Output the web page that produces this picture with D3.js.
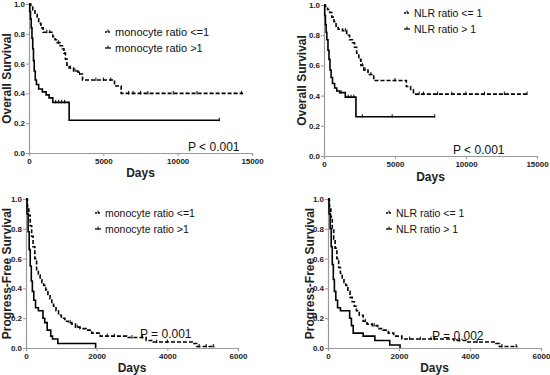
<!DOCTYPE html>
<html>
<head>
<meta charset="utf-8">
<script src="https://cdn.jsdelivr.net/npm/d3@7"></script>
<style>
  body { margin: 0; background: #fff; }
  svg { font-family: "Liberation Sans", Arial, sans-serif; }
  .tick text { font-weight: bold; font-size: 8px; fill: #222; }
  .axis-title { font-weight: bold; fill: #222; }
</style>
</head>
<body>
<div id="chart"></div>
<script>
// Overall survival, monocyte ratio
var osMonoLowT = [0,120,250,400,550,650,800,950,1600,1750,1900,2100,2250,2350,2450,2550,2700,3000,3300,3600,5750,6200,14400];
var osMonoLowS = [1,0.98,0.96,0.93,0.90,0.87,0.84,0.81,0.78,0.76,0.74,0.72,0.70,0.67,0.63,0.59,0.57,0.55,0.53,0.49,0.45,0.40,0.40];
var osMonoLowC = [1200,1400,2000,2800,3100,3400,4500,5000,5500,6700,7000,7500,8000,9700,11300,14300];
var osMonoHighT = [0,50,100,150,200,250,300,350,420,500,650,900,1150,1350,1600,2700,12800];
var osMonoHighS = [1,0.95,0.90,0.84,0.77,0.70,0.62,0.55,0.49,0.46,0.43,0.41,0.39,0.37,0.34,0.22,0.22];
var osMonoHighC = [1800,2000,2200,2400,12800];

// Overall survival, NLR ratio
var osNlrLowT = [0,100,250,400,550,700,850,1000,1300,1600,1800,2000,2150,2300,2450,2600,2800,3100,3500,5800,6100,6300,14400];
var osNlrLowS = [1,0.99,0.97,0.95,0.92,0.89,0.86,0.84,0.83,0.80,0.77,0.75,0.72,0.68,0.64,0.60,0.57,0.54,0.50,0.46,0.44,0.41,0.41];
var osNlrLowC = [1500,2700,2900,3300,5000,6700,7000,8000,9000,10000,11300,12700,14300];
var osNlrHighT = [0,50,100,150,200,280,350,420,500,600,750,900,1100,1500,2250,7800];
var osNlrHighS = [1,0.93,0.87,0.82,0.77,0.70,0.64,0.57,0.52,0.48,0.45,0.43,0.42,0.39,0.26,0.26];
var osNlrHighC = [1200,1700,1900,2100,2700,4800,7800];

// Progression-free survival, monocyte ratio
var pfsMonoLowT = [0,40,80,120,160,200,250,300,350,400,450,500,560,620,680,730,780,850,920,1000,1100,1200,1300,1400,1530,1700,1860,2100,2850,3400,3600,4750,4830,5350];
var pfsMonoLowS = [1,0.95,0.89,0.82,0.75,0.68,0.60,0.52,0.49,0.46,0.44,0.42,0.39,0.36,0.33,0.30,0.28,0.25,0.22,0.20,0.18,0.17,0.16,0.14,0.13,0.12,0.10,0.08,0.07,0.05,0.04,0.03,0.01,0.01];
var pfsMonoLowC = [1250,1450,2300,2500,3000,3300,3700,4000,4900,5100,5300];
var pfsMonoHighT = [0,30,60,90,120,150,180,220,270,350,480,530,600,700,750,900,1970];
var pfsMonoHighS = [1,0.90,0.78,0.66,0.55,0.45,0.38,0.32,0.27,0.25,0.20,0.17,0.12,0.08,0.06,0.03,0];
var pfsMonoHighC = [];

// Progression-free survival, NLR ratio
var pfsNlrLowT = [0,40,80,120,160,200,250,300,350,400,450,500,560,620,680,740,800,880,990,1100,1250,1400,1550,1700,1850,2080,3550,3900,4730,4830,5340];
var pfsNlrLowS = [1,0.95,0.88,0.80,0.73,0.67,0.60,0.54,0.50,0.47,0.44,0.42,0.38,0.34,0.31,0.28,0.25,0.22,0.18,0.16,0.15,0.13,0.12,0.10,0.08,0.06,0.05,0.04,0.03,0.01,0.01];
var pfsNlrLowC = [1050,1300,2300,2600,2900,3000,3700,4200,4900,5300];
var pfsNlrHighT = [0,30,60,90,120,150,180,220,270,350,610,660,710,990,1320,1740,2030];
var pfsNlrHighS = [1,0.90,0.80,0.68,0.56,0.46,0.38,0.32,0.27,0.25,0.20,0.15,0.10,0.08,0.05,0.02,0];
var pfsNlrHighC = [];

var yTicks = [0, 0.2, 0.4, 0.6, 0.8, 1.0];
var osTicks = [0, 5000, 10000, 15000];
var pfsTicks = [0, 2000, 4000, 6000];

var panels = [
    {x0: 29, x1: 252, y0: 153, y1: 4, xMax: 15000, xTicks: osTicks, yTitle: 'Overall Survival', yTitleX: 7,
     daysY: 177, legX: 105, legY: 32, legSize: 11, pText: 'P < 0.001', pX: 188, pY: 151,
     labels: ['monocyte ratio <=1', 'monocyte ratio >1'],
     low: [osMonoLowT, osMonoLowS, osMonoLowC], high: [osMonoHighT, osMonoHighS, osMonoHighC]},
    {x0: 324, x1: 537, y0: 156, y1: 5, xMax: 15000, xTicks: osTicks, yTitle: 'Overall Survival', yTitleX: 302,
     daysY: 181, legX: 404, legY: 13, legSize: 10.5, pText: 'P < 0.001', pX: 453, pY: 154,
     labels: ['NLR ratio <= 1', 'NLR ratio > 1'],
     low: [osNlrLowT, osNlrLowS, osNlrLowC], high: [osNlrHighT, osNlrHighS, osNlrHighC]},
    {x0: 26, x1: 238, y0: 348, y1: 199, xMax: 6000, xTicks: pfsTicks, yTitle: 'Progress-Free Survival', yTitleX: 7,
     daysY: 372, legX: 95, legY: 213, legSize: 10.5, pText: 'P = 0.001', pX: 140, pY: 338,
     labels: ['monocyte ratio <=1', 'monocyte ratio >1'],
     low: [pfsMonoLowT, pfsMonoLowS, pfsMonoLowC], high: [pfsMonoHighT, pfsMonoHighS, pfsMonoHighC]},
    {x0: 328, x1: 541, y0: 348, y1: 199, xMax: 6000, xTicks: pfsTicks, yTitle: 'Progress-Free Survival', yTitleX: 310,
     daysY: 372, legX: 386, legY: 213, legSize: 10.5, pText: 'P = 0.002', pX: 432, pY: 340,
     labels: ['NLR ratio <= 1', 'NLR ratio > 1'],
     low: [pfsNlrLowT, pfsNlrLowS, pfsNlrLowC], high: [pfsNlrHighT, pfsNlrHighS, pfsNlrHighC]}
];

const svg = d3.select('#chart').append('svg')
    .attr('width', 550)
    .attr('height', 375);

function stepValue(T, S, t) {
    var v = S[0];
    for (var i in T) {
        if (T[i] <= t) v = S[i];
    }
    return v;
}

function drawPanel(p) {
    var g = svg.append('g');
    const x = d3.scaleLinear().domain([0, p.xMax]).range([p.x0, p.x1]);
    const y = d3.scaleLinear().domain([0, 1]).range([p.y0, p.y1]);

    // axes
    g.append('g')
        .attr('transform', `translate(0,${p.y0})`)
        .call(d3.axisBottom(x).tickValues(p.xTicks).tickSize(3).tickPadding(2).tickFormat(d3.format('d')));
    g.append('g')
        .attr('transform', `translate(${p.x0},0)`)
        .call(d3.axisLeft(y).tickValues(yTicks).tickSize(3).tickPadding(1).tickFormat(d3.format('.1f')));
    g.selectAll('.domain').attr('stroke', '#999').attr('stroke-width', 1.2);
    g.selectAll('.tick line').attr('stroke', '#999');

    g.append('text')
        .attr('class', 'axis-title')
        .attr('x', (p.x0 + p.x1) / 2)
        .attr('y', p.daysY)
        .attr('text-anchor', 'middle')
        .style('font-size', '12px')
        .text('Days');
    g.append('text')
        .attr('class', 'axis-title')
        .attr('transform', `translate(${p.yTitleX},${(p.y0 + p.y1) / 2}) rotate(-90)`)
        .attr('text-anchor', 'middle')
        .attr('dy', '0.35em')
        .style('font-size', '12px')
        .text(p.yTitle);

    // curves
    var line = d3.line()
        .x(d => x(d[0]))
        .y(d => y(d[1]))
        .curve(d3.curveStepAfter);
    [['low', '4,2'], ['high', null]].forEach(function(s) {
        var T = p[s[0]][0], S = p[s[0]][1], C = p[s[0]][2];
        var pts = T.map((t, i) => [t, S[i]]);
        g.append('path')
            .datum(pts)
            .attr('fill', 'none')
            .attr('stroke', '#000')
            .attr('stroke-width', 1.6)
            .attr('stroke-dasharray', s[1])
            .attr('d', line);
        g.selectAll(null)
            .data(C)
            .join('line')
            .attr('x1', d => x(d))
            .attr('x2', d => x(d))
            .attr('y1', d => y(stepValue(T, S, d)) - 2.5)
            .attr('y2', d => y(stepValue(T, S, d)) + 1)
            .attr('stroke', '#000')
            .attr('stroke-width', 1);
    });

    // legend
    p.labels.forEach(function(lab, i) {
        var ly = p.legY + i * 16;
        g.append('line')
            .attr('x1', p.legX).attr('x2', p.legX + 6)
            .attr('y1', ly).attr('y2', ly)
            .attr('stroke', '#000').attr('stroke-width', 1.3)
            .attr('stroke-dasharray', i == 0 ? '2,1' : null);
        g.append('line')
            .attr('x1', p.legX + 3).attr('x2', p.legX + 3)
            .attr('y1', ly - 2.5).attr('y2', ly)
            .attr('stroke', '#000').attr('stroke-width', 1);
        g.append('text')
            .attr('x', p.legX + 10)
            .attr('y', ly)
            .attr('dy', '0.35em')
            .style('font-size', p.legSize + 'px')
            .attr('fill', '#111')
            .text(lab);
    });

    g.append('text')
        .attr('x', p.pX)
        .attr('y', p.pY)
        .style('font-size', '12px')
        .attr('fill', '#111')
        .text(p.pText);
}

panels.forEach(drawPanel);
</script>
</body>
</html>
